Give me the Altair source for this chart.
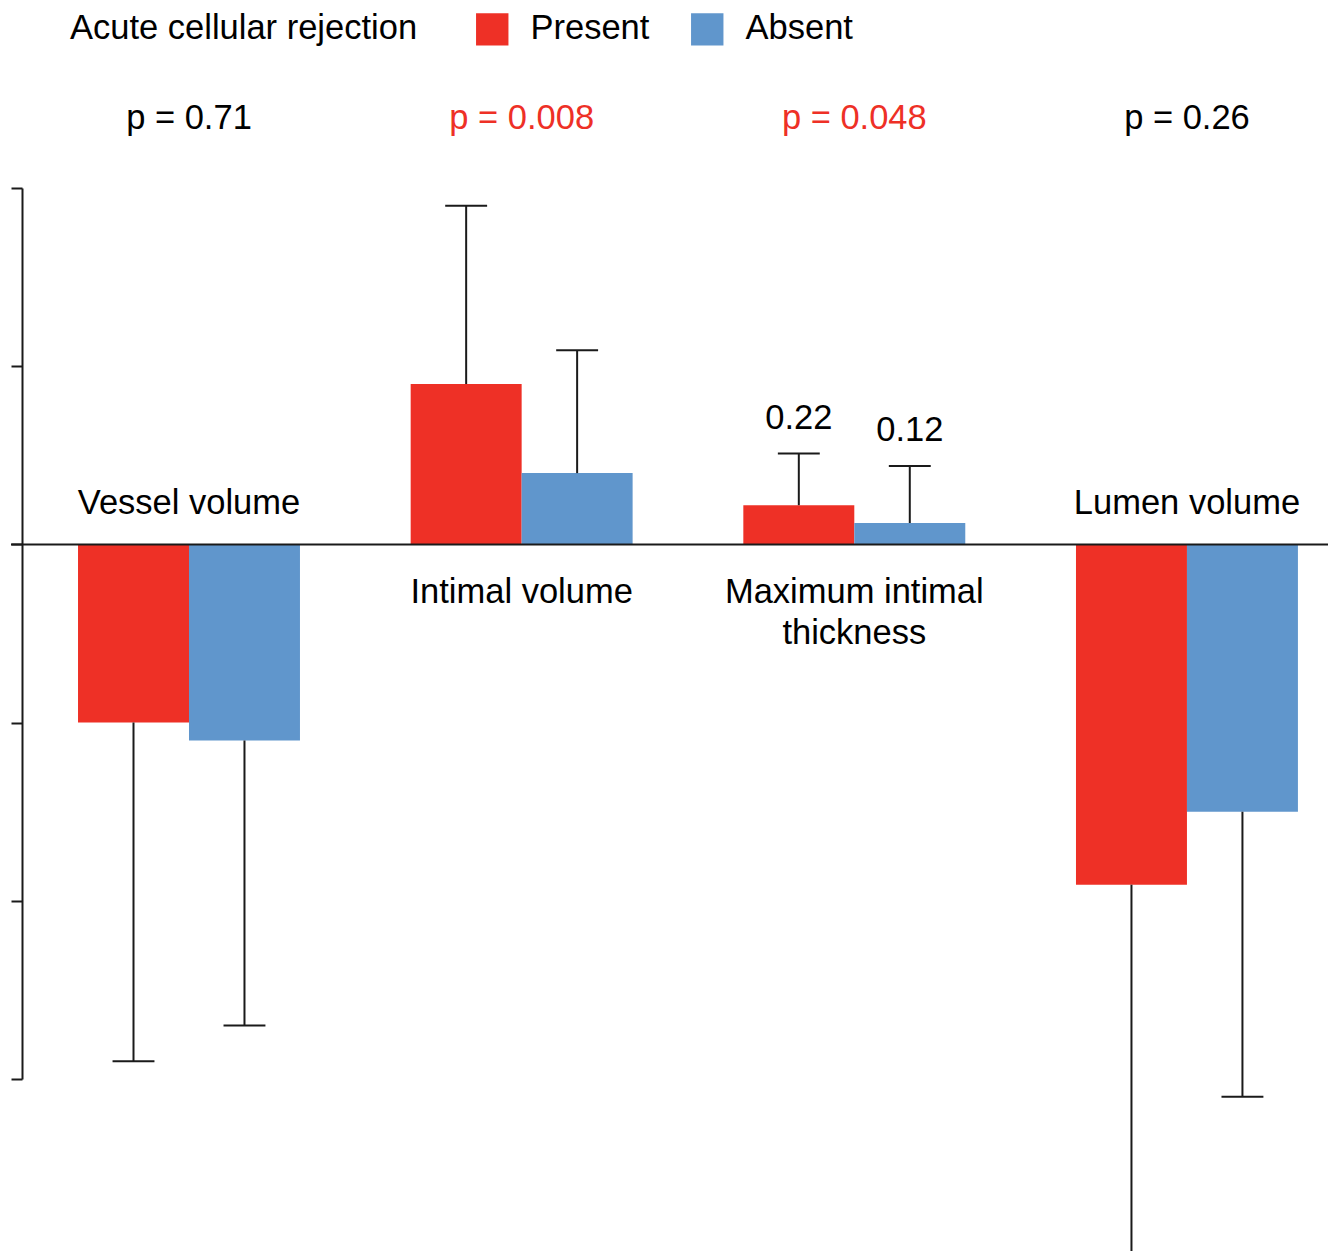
import altair as alt
import pandas as pd

groups = ["Vessel volume", "Intimal volume", "Maximum intimal thickness", "Lumen volume"]
series = ["Present", "Absent"]
present_mean = [-1.00, 0.90, 0.22, -1.91]
present_sd = [1.90, 1.00, 0.29, 2.09]
absent_mean = [-1.10, 0.40, 0.12, -1.50]
absent_sd = [1.60, 0.69, 0.32, 1.60]
p_values = ["p = 0.71", "p = 0.008", "p = 0.048", "p = 0.26"]
p_significant = [False, True, True, False]
group_label_lines = [["Vessel volume"], ["Intimal volume"], ["Maximum intimal", "thickness"], ["Lumen volume"]]
value_labels_group = "Maximum intimal thickness"
y_ticks = [-3, -2, -1, 0, 1, 2]

RED = "#ee3026"
BLUE = "#6096cc"
INK = "#1a1a1a"
FONT = "Liberation Sans"
FS = 34.5

rows = []
for gi, g in enumerate(groups):
    for s, m, sd in (("Present", present_mean[gi], present_sd[gi]), ("Absent", absent_mean[gi], absent_sd[gi])):
        rows.append({"group": g, "gi": gi, "series": s, "sign": -1 if s == "Present" else 1,
                     "mean": m, "sd": sd,
                     "vlabel": f"{m:.2f}" if g == value_labels_group else ""})
df = pd.DataFrame(rows)

gdf = pd.DataFrame({
    "group": groups, "gi": list(range(len(groups))),
    "p": p_values, "sig": ["yes" if s else "no" for s in p_significant],
    "lines": group_label_lines,
    "pos": ["above" if present_mean[i] < 0 else "below" for i in range(len(groups))],
})

BW = 0.3336   # bar width in group-step units
CAP = 0.063   # half cap width

xs = alt.Scale(domain=[-0.502, 3.424], nice=False, zero=False)
ys = alt.Scale(domain=[-3, 2], nice=False, zero=False)
noax = None

base = alt.Chart(df).transform_calculate(
    x0=f"datum.gi + (datum.sign < 0 ? -{BW} : 0)",
    x1=f"datum.gi + (datum.sign < 0 ? 0 : {BW})",
    xc=f"datum.gi + datum.sign * {BW / 2}",
    cl=f"datum.gi + datum.sign * {BW / 2} - {CAP}",
    cr=f"datum.gi + datum.sign * {BW / 2} + {CAP}",
    err="datum.mean + (datum.mean < 0 ? -datum.sd : datum.sd)",
    zero="0",
)

bars = base.mark_bar(clip=False).encode(
    x=alt.X("x0:Q", scale=xs, axis=noax),
    x2="x1:Q",
    y=alt.Y("mean:Q", scale=ys,
            axis=alt.Axis(values=y_ticks, labels=False, title=None, grid=False,
                          domainColor=INK, domainWidth=2, tickColor=INK, tickWidth=2,
                          tickSize=11)),
    y2="zero:Q",
    color=alt.Color("series:N", scale=alt.Scale(domain=series, range=[RED, BLUE]),
                    legend=alt.Legend(orient="none", legendX=48, legendY=-176,
                                      direction="horizontal", title="Acute cellular rejection",
                                      titleOrient="left", titleFontSize=FS, labelFontSize=FS,
                                      titleFont=FONT, labelFont=FONT, titleFontWeight="normal",
                                      titleColor="black", labelColor="black",
                                      symbolType="square", symbolSize=1050, symbolStrokeWidth=0,
                                      symbolOpacity=1, titlePadding=57, labelOffset=21,
                                      columnPadding=40, padding=0, labelLimit=400,
                                      titleLimit=600, titleBaseline="middle", titleAnchor="middle")),
)

stems = base.mark_rule(color=INK, strokeWidth=2, clip=False).encode(
    x=alt.X("xc:Q", scale=xs, axis=noax),
    y=alt.Y("mean:Q", scale=ys),
    y2="err:Q",
)
caps = base.mark_rule(color=INK, strokeWidth=2, clip=False).encode(
    x=alt.X("cl:Q", scale=xs, axis=noax),
    x2="cr:Q",
    y=alt.Y("err:Q", scale=ys),
)
vlabels = base.mark_text(font=FONT, fontSize=FS, color="black", dy=-35, baseline="middle").encode(
    x=alt.X("xc:Q", scale=xs, axis=noax),
    y=alt.Y("err:Q", scale=ys),
    text="vlabel:N",
)

zero_rule = alt.Chart(pd.DataFrame({"z": [0]})).mark_rule(color=INK, strokeWidth=2).encode(
    y=alt.Y("z:Q", scale=ys),
    x=alt.value(-11),
    x2=alt.value(1306),
)

gbase = alt.Chart(gdf)
ptext = gbase.mark_text(font=FONT, fontSize=FS, baseline="middle").encode(
    x=alt.X("gi:Q", scale=xs, axis=noax),
    y=alt.value(-69),
    text="p:N",
    color=alt.Color("sig:N", scale=alt.Scale(domain=["yes", "no"], range=[RED, "black"]), legend=None),
)
above = gbase.transform_filter("datum.pos == 'above'").transform_calculate(zero="0").mark_text(
    font=FONT, fontSize=FS, baseline="middle", dy=-40, color="black").encode(
    x=alt.X("gi:Q", scale=xs, axis=noax),
    y=alt.Y("zero:Q", scale=ys),
    text="lines",
)
below = gbase.transform_filter("datum.pos == 'below'").transform_calculate(zero="0").mark_text(
    font=FONT, fontSize=FS, baseline="top", dy=32, lineHeight=41, color="black").encode(
    x=alt.X("gi:Q", scale=xs, axis=noax),
    y=alt.Y("zero:Q", scale=ys),
    text="lines",
)

chart = alt.layer(bars, zero_rule, stems, caps, vlabels, ptext, above, below).resolve_scale(
    color="independent"
).properties(
    width=1306, height=891,
    background="white",
    autosize=alt.AutoSizeParams(type="none"),
    padding={"left": 14, "top": 180, "right": 0, "bottom": 172},
).configure_view(stroke=None)

chart.save("out.html", embed_options={"renderer": "svg", "actions": False})
